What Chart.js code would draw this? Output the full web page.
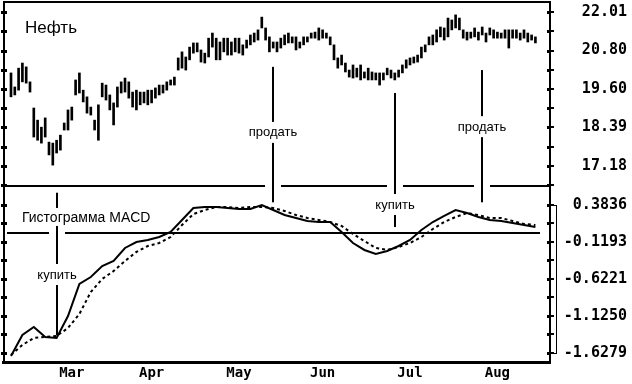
<!DOCTYPE html>
<html lang="ru">
<head>
<meta charset="UTF-8">
<title>Нефть и гистограмма MACD</title>
<script src="https://cdn.jsdelivr.net/npm/chart.js"></script>
<style>
  body { margin: 0; background: #fff; }
  #wrap { width: 632px; height: 384px; }
</style>
</head>
<body>
<div id="wrap"><canvas id="chart" width="632" height="384"></canvas></div>
<script>
// daily high / low of oil, one value per trading day (index 0..138)
const priceHigh = [
  20.10, 19.66, 20.25, 20.41, 20.29, 19.82, 19.00, 18.62, 18.40, 18.69,
  17.93, 17.90, 17.99, 18.15, 18.53, 18.94, 19.03, 19.88, 20.10, 19.56,
  19.35, 19.03, 18.62, 19.10, 19.78, 19.72, 19.41, 19.16, 19.66, 19.82,
  19.94, 19.82, 19.50, 19.56, 19.50, 19.50, 19.56, 19.56, 19.63, 19.72,
  19.72, 19.82, 19.88, 19.97, 20.57, 20.76, 20.60, 20.91, 21.04, 21.04,
  20.82, 20.72, 21.19, 21.35, 21.19, 21.07, 21.19, 21.19, 21.07, 21.19,
  21.19, 20.98, 21.13, 21.29, 21.35, 21.45, 21.85, 21.51, 21.23, 21.07,
  21.07, 21.19, 21.29, 21.35, 21.23, 21.23, 21.07, 21.23, 21.23, 21.35,
  21.38, 21.51, 21.45, 21.35, 21.23, 20.98, 20.57, 20.66, 20.41, 20.19,
  20.35, 20.25, 20.35, 20.13, 20.25, 20.13, 20.10, 20.10, 20.10, 20.25,
  20.19, 20.10, 20.19, 20.35, 20.51, 20.57, 20.60, 20.66, 20.91, 20.98,
  21.23, 21.29, 21.45, 21.54, 21.51, 21.82, 21.76, 21.92, 21.82, 21.45,
  21.38, 21.38, 21.51, 21.38, 21.54, 21.35, 21.51, 21.45, 21.38, 21.35,
  21.45, 21.45, 21.45, 21.45, 21.35, 21.45, 21.35, 21.29, 21.23
];
const priceLow = [
  19.35, 19.41, 19.56, 19.82, 19.78, 19.50, 18.09, 17.99, 17.90, 18.09,
  17.53, 17.21, 17.59, 17.68, 18.31, 18.31, 18.62, 19.41, 19.47, 19.19,
  18.84, 18.78, 18.31, 17.99, 19.35, 19.25, 18.94, 18.47, 19.03, 19.47,
  19.50, 19.31, 19.03, 18.94, 19.10, 19.16, 19.10, 19.16, 19.31, 19.41,
  19.47, 19.56, 19.72, 19.72, 20.19, 20.25, 20.19, 20.51, 20.72, 20.76,
  20.44, 20.41, 20.60, 20.91, 20.51, 20.51, 20.76, 20.66, 20.66, 20.76,
  20.72, 20.66, 20.88, 20.98, 21.07, 21.13, 21.51, 21.13, 20.76, 20.88,
  20.76, 20.88, 20.98, 21.04, 21.04, 20.82, 20.88, 20.98, 21.07, 21.19,
  21.19, 21.13, 21.19, 21.19, 20.98, 20.51, 20.25, 20.35, 20.13, 19.97,
  19.94, 19.97, 19.88, 19.94, 19.88, 19.88, 19.88, 19.72, 19.88, 20.04,
  19.94, 19.88, 19.97, 20.10, 20.25, 20.35, 20.41, 20.44, 20.57, 20.76,
  20.98, 20.98, 21.07, 21.23, 21.13, 21.23, 21.45, 21.51, 21.45, 21.19,
  21.13, 21.19, 21.23, 21.13, 21.29, 21.07, 21.29, 21.19, 21.19, 21.19,
  21.19, 20.88, 21.19, 21.19, 21.13, 21.19, 21.07, 21.13, 21.04
];

// MACD and its signal line, read every 3rd trading day
const macdStep = 3;
const macdLine = [
  -1.669, -1.383, -1.275, -1.411, -1.424, -1.125, -0.690, -0.595, -0.446, -0.378,
  -0.201, -0.120, -0.092, -0.052, 0.016, 0.179, 0.342, 0.356, 0.356, 0.342,
  0.329, 0.329, 0.383, 0.315, 0.247, 0.207, 0.166, 0.152, 0.152, 0.016,
  -0.133, -0.228, -0.283, -0.242, -0.174, -0.092, 0.043, 0.152, 0.234, 0.315,
  0.275, 0.220, 0.179, 0.166, 0.139, 0.111, 0.084
];
const signalLine = [
  -1.655, -1.519, -1.424, -1.411, -1.397, -1.288, -1.098, -0.799, -0.622, -0.514,
  -0.378, -0.255, -0.174, -0.133, -0.052, 0.111, 0.261, 0.315, 0.356, 0.356,
  0.342, 0.356, 0.356, 0.342, 0.302, 0.247, 0.207, 0.179, 0.152, 0.098,
  -0.011, -0.106, -0.201, -0.228, -0.188, -0.133, -0.052, 0.057, 0.152, 0.220,
  0.275, 0.247, 0.207, 0.207, 0.166, 0.125, 0.111
];

const priceTicks = [22.01, 20.80, 19.60, 18.39, 17.18];
const macdTicks = [0.3836, -0.1193, -0.6221, -1.1250, -1.6279];
const monthNames = ['Mar', 'Apr', 'May', 'Jun', 'Jul', 'Aug'];
const monthDays = [16, 37, 60, 82, 105, 128];
const signalDays = [12, 69, 101, 124];
const signalLabels = ['купить', 'продать', 'купить', 'продать'];

// labelled ticks plus the unlabelled half steps between them
function withHalfSteps(list, extraBelow) {
  const out = [];
  list.forEach((v, i) => {
    out.push(v);
    if (i < list.length - 1) out.push((v + list[i + 1]) / 2);
    else if (extraBelow) out.push(v - (list[i - 1] - v) / 2);
  });
  return out;
}

// keep the plot area fixed: no extra room for half labels / tick padding
function fixBox(s, w) {
  s.width = w;
  s.paddingTop = 0;
  s.paddingBottom = 0;
}

const monoFont = { family: '"DejaVu Sans Mono", monospace', weight: 'bold', size: 15 };
const textFont = '"Liberation Sans", Arial, sans-serif';

// where the arrows start and end, and where their labels sit
const arrowSpans = [
  { top: ['m', 0.55], bottom: ['m', -1.39], label: ['m', -0.568] },
  { top: ['p', 20.29], bottom: ['m', 0.42], label: ['p', 18.22] },
  { top: ['p', 19.47], bottom: ['m', 0.084], label: ['m', 0.383] },
  { top: ['p', 20.19], bottom: ['m', 0.42], label: ['p', 18.40] }
];

const decorPlugin = {
  id: 'decor',
  afterDraw(chart) {
    const { ctx, chartArea: ca, scales } = chart;
    const xs = scales.x, yp = scales.yPrice, ym = scales.yMacd;
    const py = (ref) => (ref[0] === 'p' ? yp : ym).getPixelForValue(ref[1]);
    const arrowX = signalDays.map(d => Math.round(xs.getPixelForValue(d)));

    ctx.save();
    ctx.fillStyle = '#000';

    // frame: top and left edges with tick dots
    ctx.fillRect(ca.left, ca.top - 1, ca.right - ca.left, 2);
    ctx.fillRect(ca.left, ca.top, 2, ca.bottom - ca.top);
    [yp, ym].forEach(s => s.ticks.forEach(t => {
      const y = Math.round(s.getPixelForValue(t.value));
      ctx.fillRect(ca.left - 2, y - 1, 6, 3);
      ctx.fillRect(ca.right - 3, y - 1, 4, 3);
    }));

    // horizontal line with gaps where arrows cross it
    const hline = (y, x0, x1, gaps) => {
      let start = x0;
      gaps.filter(g => g > x0 && g < x1).sort((a, b) => a - b).forEach(g => {
        ctx.fillRect(start, y - 1, g - 8 - start, 2);
        start = g + 8;
      });
      ctx.fillRect(start, y - 1, x1 - start, 2);
    };
    hline(Math.round(yp.bottom), ca.left, ca.right, arrowX.slice(1));
    hline(Math.round(ym.getPixelForValue(0)), ca.left + 4, ca.right - 10, [arrowX[0]]);

    // bracket beside the MACD scale
    const bTop = Math.round(ym.getPixelForValue(macdTicks[0]));
    const bBot = Math.round(ym.getPixelForValue(macdTicks[macdTicks.length - 1]));
    ctx.fillRect(ca.right + 6, bTop, 1, bBot - bTop);
    ctx.fillRect(ca.right, bTop, 7, 1);
    ctx.fillRect(ca.right, bBot, 7, 1);

    // panel titles
    const macdTitleY = ym.getPixelForValue(0.207);
    ctx.textBaseline = 'middle';
    ctx.textAlign = 'left';
    ctx.font = '17px ' + textFont;
    ctx.fillText('Нефть', ca.left + 22, yp.getPixelForValue(21.50));
    ctx.font = '14px ' + textFont;
    ctx.fillText('Гистограмма MACD', ca.left + 19, macdTitleY);

    // buy / sell arrows
    ctx.font = '13px ' + textFont;
    ctx.textAlign = 'center';
    arrowSpans.forEach((a, i) => {
      const x = arrowX[i];
      const y0 = py(a.top), y1 = py(a.bottom), ly = py(a.label);
      const gaps = [[ly - 11, ly + 10]];
      if (i === 0) gaps.unshift([macdTitleY - 10, macdTitleY + 8]);
      let start = y0;
      gaps.forEach(g => {
        ctx.fillRect(x - 1, start, 2, g[0] - start);
        start = g[1];
      });
      ctx.fillRect(x - 1, start, 2, y1 - start);
      ctx.fillText(signalLabels[i], x, ly);
    });
    ctx.restore();
  }
};

new Chart(document.getElementById('chart'), {
  type: 'bar',
  data: {
    datasets: [
      {
        type: 'bar',
        label: 'Нефть',
        data: priceHigh.map((h, i) => ({ x: i, y: [priceLow[i], h] })),
        xAxisID: 'x',
        yAxisID: 'yPrice',
        backgroundColor: '#000',
        borderWidth: 0,
        barThickness: 2,
        grouped: false
      },
      {
        type: 'line',
        label: 'MACD',
        data: macdLine.map((v, k) => ({ x: k * macdStep, y: v })),
        xAxisID: 'x',
        yAxisID: 'yMacd',
        borderColor: '#000',
        borderWidth: 2,
        pointRadius: 0,
        tension: 0
      },
      {
        type: 'line',
        label: 'Signal',
        data: signalLine.map((v, k) => ({ x: k * macdStep, y: v })),
        xAxisID: 'x',
        yAxisID: 'yMacd',
        borderColor: '#000',
        borderWidth: 2,
        borderDash: [3, 3],
        pointRadius: 0,
        tension: 0
      }
    ]
  },
  options: {
    responsive: false,
    animation: false,
    devicePixelRatio: 1,
    layout: { padding: { left: 3, top: 2, right: 5, bottom: 0 } },
    plugins: { legend: { display: false }, tooltip: { enabled: false } },
    scales: {
      x: {
        type: 'linear',
        min: -2.105,
        max: 141.84,
        offset: false,
        grid: { display: false, drawTicks: false, tickLength: 0 },
        border: { display: true, color: '#000', width: 3 },
        afterBuildTicks: s => { s.ticks = monthDays.map(v => ({ value: v })); },
        afterFit: s => { s.height = 22; s.paddingLeft = 0; s.paddingRight = 0; },
        ticks: {
          autoSkip: false,
          maxRotation: 0,
          padding: 3,
          color: '#000',
          font: { family: monoFont.family, weight: 'bold', size: 14 },
          callback: v => monthNames[monthDays.indexOf(v)]
        }
      },
      yPrice: {
        type: 'linear',
        position: 'right',
        stack: 'panels',
        stackWeight: 184,
        weight: 1,
        min: 16.5555,
        max: 22.3235,
        grid: { drawOnChartArea: false, color: '#000', lineWidth: 2, tickLength: 4 },
        border: { display: true, color: '#000', width: 2 },
        afterBuildTicks: s => { s.ticks = withHalfSteps(priceTicks, true).map(v => ({ value: v })); },
        afterFit: s => fixBox(s, 77),
        ticks: {
          autoSkip: false,
          crossAlign: 'far',
          color: '#000',
          font: monoFont,
          callback: v => priceTicks.includes(v) ? v.toFixed(2) : ''
        }
      },
      yMacd: {
        type: 'linear',
        position: 'right',
        stack: 'panels',
        stackWeight: 176,
        weight: 2,
        min: -1.7504,
        max: 0.6414,
        grid: { drawOnChartArea: false, color: '#000', lineWidth: 2, tickLength: 4 },
        border: { display: true, color: '#000', width: 2 },
        afterBuildTicks: s => { s.ticks = withHalfSteps(macdTicks, false).map(v => ({ value: v })); },
        afterFit: s => fixBox(s, 77),
        ticks: {
          autoSkip: false,
          crossAlign: 'far',
          color: '#000',
          font: monoFont,
          callback: v => macdTicks.includes(v) ? v.toFixed(4) : ''
        }
      }
    }
  },
  plugins: [decorPlugin]
});
</script>
</body>
</html>
